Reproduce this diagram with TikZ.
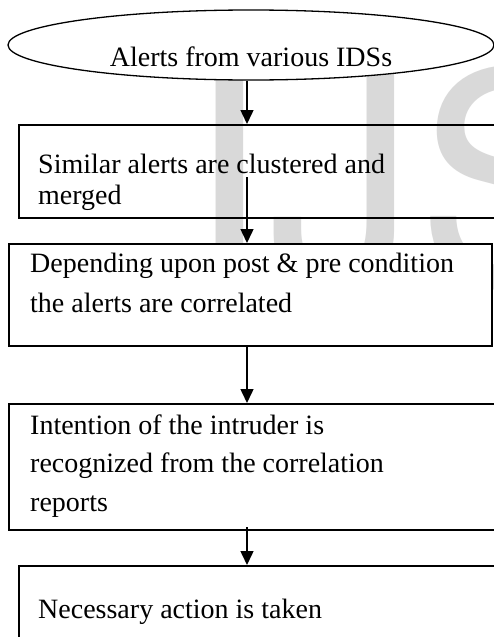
\documentclass[tikz,border=0pt]{standalone}
\usepackage{fontspec}
\setmainfont{Liberation Serif}
\newfontfamily\wmfont{TeX Gyre Heros}
\usetikzlibrary{shapes.geometric,arrows.meta}
\tikzset{
  boxst/.style={draw, line width=1.5pt, rectangle, inner sep=0pt, anchor=north west},
  ovalst/.style={draw, line width=1.3pt, ellipse, inner sep=0pt, fill=white},
  txt/.style={anchor=base west, inner sep=0pt, font=\fontsize{28}{28}\selectfont},
  arr/.style={line width=1.5pt, -{Triangle[width=13pt,length=14pt]}},
  wmark/.style={anchor=base west, inner sep=0pt, text=black!15,
    font=\wmfont\fontsize{296}{296}\selectfont}
}
\begin{document}
\begin{tikzpicture}[x=1pt,y=-1pt]
\useasboundingbox (0,0) rectangle (494,637);
\fill[white] (0,0) rectangle (494,637);
% watermark
\node[wmark] (wm) at (186,286) {IJS};
% shapes
\node[ovalst, minimum width=486pt, minimum height=70pt] (e) at (251,45) {};
\node[boxst, minimum width=510pt, minimum height=93pt] (b1) at (18,124) {};
\node[boxst, fill=white, minimum width=483pt, minimum height=102pt] (b2) at (8,243) {};
\node[boxst, minimum width=512pt, minimum height=126pt] (b3) at (8,403) {};
\node[boxst, minimum width=502pt, minimum height=100pt] (b4) at (18,565) {};
% texts
\node[txt, anchor=base] (t0) at (251,66) {Alerts from various IDSs};
\node[txt] (t1a) at (38,173) {Similar alerts are clustered and};
\node[txt] (t1b) at (38,204) {merged};
\node[txt] (t2a) at (30,272) {Depending upon post \& pre condition};
\node[txt] (t2b) at (30,312) {the alerts are correlated};
\node[txt] (t3a) at (30,434) {Intention of the intruder is};
\node[txt] (t3b) at (30,472) {recognized from the correlation};
\node[txt] (t3c) at (30,511) {reports};
\node[txt] (t4a) at (38,618) {Necessary action is taken};
% connectors
\coordinate (ax) at (247,0);
\coordinate (s2) at (247,177);
\coordinate (s4) at (247,527);
\draw[arr] (ax |- e.south) -- (ax |- b1.north);
\draw[arr] (s2) -- (ax |- b2.north);
\draw[arr] (ax |- b2.south) -- (ax |- b3.north);
\draw[arr] (s4) -- (ax |- b4.north);
\end{tikzpicture}
\end{document}
